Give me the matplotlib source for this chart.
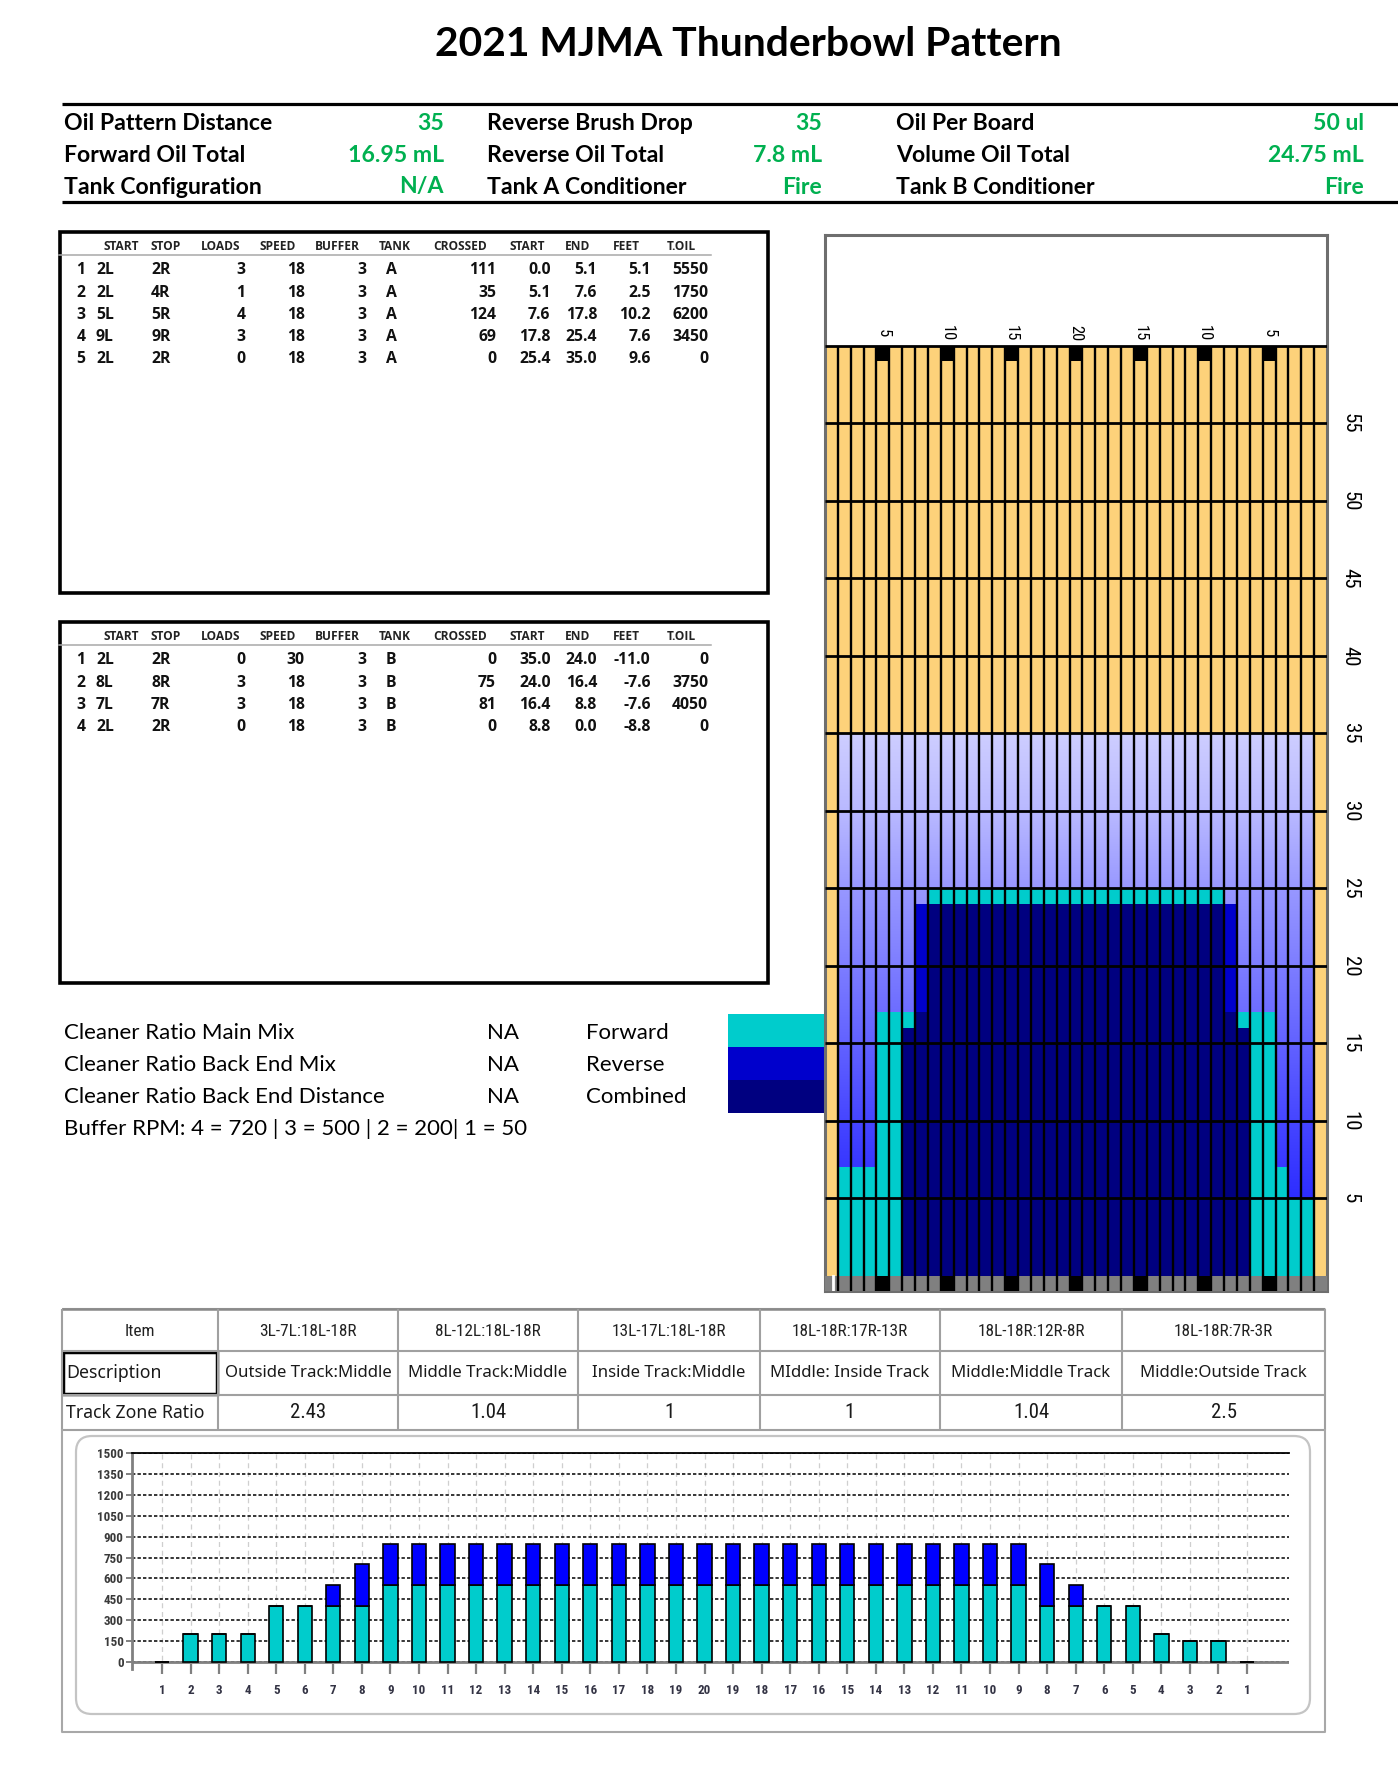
import numpy as np
import matplotlib
matplotlib.use("Agg")
import matplotlib.pyplot as plt
from matplotlib import font_manager as fm
from matplotlib.patches import Rectangle, FancyBboxPatch

# ======================= DATA =======================
TITLE = "2021 MJMA Thunderbowl Pattern"

info_col1_labels = ["Oil Pattern Distance", "Forward Oil Total", "Tank Configuration"]
info_col1_values = ["35", "16.95 mL", "N/A"]
info_col2_labels = ["Reverse Brush Drop", "Reverse Oil Total", "Tank A Conditioner"]
info_col2_values = ["35", "7.8 mL", "Fire"]
info_col3_labels = ["Oil Per Board", "Volume Oil Total", "Tank B Conditioner"]
info_col3_values = ["50 ul", "24.75 mL", "Fire"]

pass_header = ["START", "STOP", "LOADS", "SPEED", "BUFFER", "TANK",
               "CROSSED", "START", "END", "FEET", "T.OIL"]
forward_passes = [
    ["1", "2L", "2R", "3", "18", "3", "A", "111", "0.0", "5.1", "5.1", "5550"],
    ["2", "2L", "4R", "1", "18", "3", "A", "35", "5.1", "7.6", "2.5", "1750"],
    ["3", "5L", "5R", "4", "18", "3", "A", "124", "7.6", "17.8", "10.2", "6200"],
    ["4", "9L", "9R", "3", "18", "3", "A", "69", "17.8", "25.4", "7.6", "3450"],
    ["5", "2L", "2R", "0", "18", "3", "A", "0", "25.4", "35.0", "9.6", "0"],
]
reverse_passes = [
    ["1", "2L", "2R", "0", "30", "3", "B", "0", "35.0", "24.0", "-11.0", "0"],
    ["2", "8L", "8R", "3", "18", "3", "B", "75", "24.0", "16.4", "-7.6", "3750"],
    ["3", "7L", "7R", "3", "18", "3", "B", "81", "16.4", "8.8", "-7.6", "4050"],
    ["4", "2L", "2R", "0", "18", "3", "B", "0", "8.8", "0.0", "-8.8", "0"],
]

cleaner_labels = ["Cleaner Ratio Main Mix", "Cleaner Ratio Back End Mix",
                  "Cleaner Ratio Back End Distance"]
cleaner_values = ["NA", "NA", "NA"]
legend_labels = ["Forward", "Reverse", "Combined"]
buffer_rpm_text = "Buffer RPM: 4 = 720 | 3 = 500 | 2 = 200| 1 = 50"

# lane graphic (boards 1..39, distance in feet)
lane_boards = list(range(1, 40))
lane_length_ft = 60
buffer_zone = (2, 38, 0, 35)            # board lo, board hi, ft lo, ft hi (graded oil)
forward_only_cells = [(2, 4, 0, 7), (5, 6, 0, 17), (7, 7, 16, 17), (9, 31, 24, 25),
                      (33, 33, 16, 17), (34, 35, 0, 17), (36, 36, 0, 7), (37, 38, 0, 5)]
reverse_only_cells = [(8, 8, 17, 24), (32, 32, 17, 24)]
combined_cells = [(7, 33, 0, 16), (8, 32, 16, 17), (9, 31, 17, 24)]
arrow_boards = [5, 10, 15, 20, 25, 30, 35]
arrow_labels = ["5", "10", "15", "20", "15", "10", "5"]
distance_marks = [5, 10, 15, 20, 25, 30, 35, 40, 45, 50, 55]

# track zone table
zone_items = ["3L-7L:18L-18R", "8L-12L:18L-18R", "13L-17L:18L-18R",
              "18L-18R:17R-13R", "18L-18R:12R-8R", "18L-18R:7R-3R"]
zone_desc = ["Outside Track:Middle", "Middle Track:Middle", "Inside Track:Middle",
             "MIddle: Inside Track", "Middle:Middle Track", "Middle:Outside Track"]
zone_ratio = ["2.43", "1.04", "1", "1", "1.04", "2.5"]

# oil per board (ul)
board_tick_labels = ["1", "2", "3", "4", "5", "6", "7", "8", "9", "10", "11", "12", "13",
                     "14", "15", "16", "17", "18", "19", "20", "19", "18", "17", "16", "15",
                     "14", "13", "12", "11", "10", "9", "8", "7", "6", "5", "4", "3", "2", "1"]
forward_ul = [0, 200, 200, 200, 400, 400, 400, 400,
              550, 550, 550, 550, 550, 550, 550, 550, 550, 550, 550, 550,
              550, 550, 550, 550, 550, 550, 550, 550, 550, 550, 550,
              400, 400, 400, 400, 200, 150, 150, 0]
reverse_ul = [0, 0, 0, 0, 0, 0, 150, 300,
              300, 300, 300, 300, 300, 300, 300, 300, 300, 300, 300, 300,
              300, 300, 300, 300, 300, 300, 300, 300, 300, 300, 300,
              300, 150, 0, 0, 0, 0, 0, 0]
y_ticks = [0, 150, 300, 450, 600, 750, 900, 1050, 1200, 1350, 1500]

# ======================= STYLE =======================
ORANGE = "#FDD27A"
CYAN = "#00CCCC"
REV = "#0000CC"
COMB = "#000080"
BAR_BLUE = "#0000FF"
GREEN = "#00B050"
grad_ft = [0, 5, 10, 15, 20, 25, 30, 35]
grad_rgb = [(32, 32, 255), (45, 45, 255), (70, 70, 255), (98, 98, 255),
            (125, 125, 255), (152, 152, 255), (185, 185, 255), (206, 206, 255)]

names = {f.name for f in fm.fontManager.ttflist}

def has_bold(name):
    for f in fm.fontManager.ttflist:
        if f.name == name:
            w = f.weight
            if isinstance(w, str):
                if "bold" in w.lower() or "black" in w.lower() or "heavy" in w.lower():
                    return True
            elif w >= 600:
                return True
    return False

def pick(*c, bold=False):
    for n in c:
        if n in names and (not bold or has_bold(n)):
            return n
    return "DejaVu Sans"

F_CAL = pick("Lato", "Open Sans", "Noto Sans")
F_TAB = pick("Open Sans", "Noto Sans", "Roboto", "Lato", "Liberation Sans", bold=True)
F_NAR = pick("Liberation Sans Narrow", "DejaVu Sans Condensed", "Roboto Condensed",
             "Liberation Sans")
F_NARB = pick("Liberation Sans Narrow", "DejaVu Sans Condensed", "Roboto Condensed",
              "Liberation Sans", bold=True)
F_UI = pick("Noto Sans", "Open Sans", "DejaVu Sans")

W, H = 1398, 1766
fig = plt.figure(figsize=(W / 100, H / 100), dpi=100)
fig.patch.set_facecolor("white")
renderer = fig.canvas.get_renderer()

def rect(x0, y0, x1, y1):
    return [x0 / W, 1 - y1 / H, (x1 - x0) / W, (y1 - y0) / H]

bg = fig.add_axes([0, 0, 1, 1])
bg.set_xlim(0, W)
bg.set_ylim(H, 0)
bg.axis("off")

def fit(t, target):
    w = t.get_window_extent(renderer).width
    t.set_fontsize(t.get_fontsize() * target / w)
    return t.get_fontsize()

# ---------------- title ----------------
t = bg.text(748, 44, TITLE, ha="center", va="center", fontsize=30,
            fontweight="bold", family=F_CAL)
fit(t, 628)

# ---------------- info block ----------------
bg.plot([62, W], [104, 104], color="black", lw=2.3, solid_capstyle="butt")
bg.plot([62, W], [202, 202], color="black", lw=2.3, solid_capstyle="butt")
rows_y = [123, 156, 187]
t0 = bg.text(64, rows_y[0], info_col1_labels[0], ha="left", va="center",
             fontsize=15, fontweight="bold", family=F_CAL)
fs_info = fit(t0, 209)
cols = [(info_col1_labels, info_col1_values, 64, 444),
        (info_col2_labels, info_col2_values, 487, 822),
        (info_col3_labels, info_col3_values, 896, 1364)]
for ci, (labs, vals, xl, xr) in enumerate(cols):
    for ri, (lab, val) in enumerate(zip(labs, vals)):
        if not (ci == 0 and ri == 0):
            bg.text(xl, rows_y[ri], lab, ha="left", va="center", fontsize=fs_info,
                    fontweight="bold", family=F_CAL)
        bg.text(xr, rows_y[ri], val, ha="right", va="center", fontsize=fs_info,
                fontweight="bold", family=F_CAL, color=GREEN)

# ---------------- pass tables ----------------
header_x = [121, 166, 221, 278, 337, 394.5, 460, 527, 577.5, 626, 681]
col_x = [81, 96, 151, 245.5, 304.7, 366.6, 386, 496, 550.5, 597, 650.6, 708]
col_ha = ["center", "left", "left", "right", "right", "right", "left",
          "right", "right", "right", "right", "right"]

def pass_table(rows, top):
    bg.add_patch(Rectangle((60, top), 708, 361, fill=False, lw=2.6, ec="black"))
    for h, x in zip(pass_header, header_x):
        bg.text(x, top + 15, h, ha="center", va="center", fontsize=8.6,
                fontweight="bold", family=F_TAB, color="#222222")
    bg.plot([59, 711], [top + 23, top + 23], color="#A8A8A8", lw=1.1)
    for r, row in enumerate(rows):
        y = top + 38.5 + r * 22.2
        for val, x, ha in zip(row, col_x, col_ha):
            bg.text(x, y, val, ha=ha, va="center", fontsize=11.3,
                    fontweight="bold", family=F_TAB, color="#111111")

pass_table(forward_passes, 232)
pass_table(reverse_passes, 622)

# ---------------- cleaner / legend block ----------------
leg_y = [1033, 1065, 1097]
t1 = bg.text(64, leg_y[2], cleaner_labels[2], ha="left", va="center", fontsize=15,
             family=F_CAL)
fs_leg = fit(t1, 320)
for i in range(3):
    if i != 2:
        bg.text(64, leg_y[i], cleaner_labels[i], ha="left", va="center",
                fontsize=fs_leg, family=F_CAL)
    bg.text(487, leg_y[i], cleaner_values[i], ha="left", va="center",
            fontsize=fs_leg, family=F_CAL)
    bg.text(586, leg_y[i], legend_labels[i], ha="left", va="center",
            fontsize=fs_leg, family=F_CAL)
bg.text(64, 1129, buffer_rpm_text, ha="left", va="center", fontsize=fs_leg,
        family=F_CAL)
for (y0, y1), c in zip([(1014, 1047), (1047, 1080), (1080, 1113)], [CYAN, REV, COMB]):
    bg.add_patch(Rectangle((728, y0), 96, y1 - y0, color=c, lw=0))

# ---------------- lane graphic ----------------
lane = fig.add_axes(rect(825, 234.5, 1327, 1291))
lane.set_xlim(0.5, 39.5)
lane.set_ylim(-0.97, 67.19)
lane.set_facecolor("white")
lane.bar(lane_boards, [lane_length_ft] * len(lane_boards), width=1.0, bottom=0,
         color=ORANGE, lw=0, zorder=1)
b_lo, b_hi, f_lo, f_hi = buffer_zone
ft_rows = np.linspace(f_lo, f_hi, 351)
img = np.stack([np.interp(ft_rows, grad_ft, [c[k] for c in grad_rgb]) for k in range(3)],
               axis=-1)[:, None, :] / 255.0
lane.imshow(img, extent=(b_lo - 0.5, b_hi + 0.5, f_lo, f_hi), origin="lower",
            aspect="auto", interpolation="bilinear", zorder=2)
for cells, c in [(forward_only_cells, CYAN), (reverse_only_cells, REV), (combined_cells, COMB)]:
    for lo, hi, a, b in cells:
        lane.bar((lo + hi) / 2, b - a, width=hi - lo + 1, bottom=a, color=c, lw=0, zorder=3)
# approach strip and arrows
lane.bar(lane_boards, [0.97] * len(lane_boards), width=1.0, bottom=-0.97,
         color="#808080", lw=0, zorder=3)
lane.bar(arrow_boards, [0.97] * len(arrow_boards), width=1.0, bottom=-0.97,
         color="black", lw=0, zorder=4)
lane.bar(arrow_boards, [0.95] * len(arrow_boards), width=1.0, bottom=lane_length_ft - 0.95,
         color="black", lw=0, zorder=4)
lane.vlines(np.array(lane_boards[:-1]) + 0.5, -0.97, lane_length_ft, color="black",
            lw=1.7, zorder=5)
lane.hlines(distance_marks + [lane_length_ft], 0.5, 39.5, color="black", lw=2.0, zorder=5)
lane.plot([1.15, 1.15], [-0.9, 0], color="white", lw=2, zorder=6)
for b, lab in zip(arrow_boards, arrow_labels):
    lane.text(b, 60.8, lab, rotation=-90, ha="center", va="center", fontsize=12,
              family=F_NAR, color="black")
for d in distance_marks:
    lane.text(1.046, d, str(d), rotation=-90, ha="center", va="center", fontsize=15,
              family=F_NAR, color="black", transform=lane.get_yaxis_transform(),
              clip_on=False)
lane.set_xticks([])
lane.set_yticks([])
for s in lane.spines.values():
    s.set_color("#6E6E6E")
    s.set_linewidth(2.2)

# ---------------- track zone table ----------------
col_edges = [62, 218, 398, 578, 760, 940, 1122, 1325]
row_edges = [1309, 1351, 1395, 1430]
for y in row_edges:
    bg.plot([62, 1325], [y, y], color="#A0A0A0", lw=1.5, solid_capstyle="butt")
bg.plot([62, 1325], [1309, 1309], color="#8A8A8A", lw=1.8, solid_capstyle="butt")
for x in col_edges:
    bg.plot([x, x], [1309, 1430], color="#A0A0A0", lw=1.5, solid_capstyle="butt")
bg.add_patch(Rectangle((63, 1352), 154, 42, fill=False, ec="black", lw=2.5))
centers = [(col_edges[i] + col_edges[i + 1]) / 2 for i in range(1, 7)]
th = bg.text(centers[0], 1332, zone_items[0], ha="center", va="center", fontsize=12,
             family=F_NAR, color="#222222")
fs_item = fit(th, 97)
bg.text(140, 1332, "Item", ha="center", va="center", fontsize=fs_item, family=F_NAR,
        color="#222222")
for cx, s in zip(centers[1:], zone_items[1:]):
    bg.text(cx, 1332, s, ha="center", va="center", fontsize=fs_item, family=F_NAR,
            color="#222222")
td = bg.text(centers[0], 1373, zone_desc[0], ha="center", va="center", fontsize=13,
             family=F_UI, color="#1a1a1a")
fs_desc = fit(td, 168)
for cx, s in zip(centers[1:], zone_desc[1:]):
    bg.text(cx, 1373, s, ha="center", va="center", fontsize=fs_desc, family=F_UI,
            color="#1a1a1a")
bg.text(66, 1373, "Description", ha="left", va="center", fontsize=fs_desc * 1.05,
        family=F_UI, color="#1a1a1a")
bg.text(66, 1413, "Track Zone Ratio", ha="left", va="center", fontsize=fs_desc * 1.05,
        family=F_UI, color="#1a1a1a")
for cx, s in zip(centers, zone_ratio):
    bg.text(cx, 1413, s, ha="center", va="center", fontsize=fs_item * 1.2, family=F_NAR,
            color="#1a1a1a")

# ---------------- chart panel ----------------
bg.plot([62, 62, 1325, 1325], [1430, 1732, 1732, 1430], color="#A8A8A8", lw=1.5)
bg.add_patch(FancyBboxPatch((76, 1436), 1234, 278,
                            boxstyle="round,pad=0,rounding_size=16",
                            fc="white", ec="#C4C4C4", lw=1.6))

bar = fig.add_axes(rect(132, 1453, 1289, 1669))
xb = np.arange(1, len(forward_ul) + 1)
bar.set_xlim(-0.05, 40.47)
bar.set_ylim(-50, 1500)
bar.set_axisbelow(True)
bar.set_yticks(y_ticks)
bar.set_yticklabels([str(v) for v in y_ticks])
bar.set_xticks(xb)
bar.set_xticklabels(board_tick_labels)
bar.yaxis.grid(True, color="black", lw=1.1, ls=(0, (2.2, 1.4)))
bar.xaxis.grid(True, color="#CFCFCF", lw=0.9, ls=(0, (4, 3)))
bar.axhline(0, color="#808080", lw=2.0, zorder=1.5)
bar.bar(xb, forward_ul, width=0.5, color=CYAN, edgecolor="black", lw=1.2, zorder=3)
bar.bar(xb, reverse_ul, width=0.5, bottom=forward_ul, color=BAR_BLUE,
        edgecolor="black", lw=1.2, zorder=3)
for k in ["right", "bottom"]:
    bar.spines[k].set_visible(False)
bar.spines["top"].set_color("black")
bar.spines["top"].set_linewidth(1.3)
bar.spines["left"].set_color("#808080")
bar.spines["left"].set_linewidth(2.0)
bar.tick_params(axis="y", length=4.5, width=1.4, color="#808080", pad=1.5)
bar.tick_params(axis="x", length=7.5, width=1.6, color="#808080", direction="inout", pad=7)
for lab in bar.get_yticklabels():
    lab.set_fontfamily(F_NARB); lab.set_fontsize(9.4); lab.set_fontweight("bold")
    lab.set_color("#3A3A3A")
for lab in bar.get_xticklabels():
    lab.set_fontfamily(F_NARB); lab.set_fontsize(9.4); lab.set_fontweight("bold")
    lab.set_color("#333344")

fig.savefig("out.png", dpi=100, facecolor="white")
